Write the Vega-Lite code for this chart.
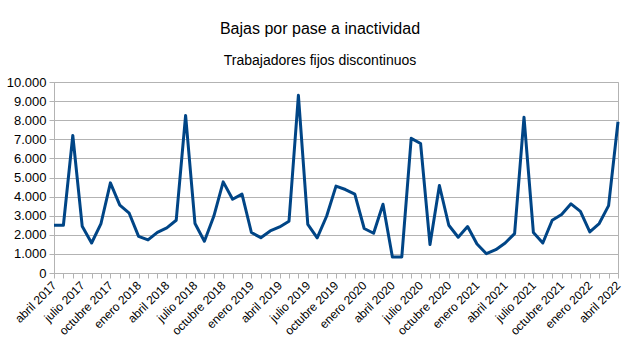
{
  "$schema": "https://vega.github.io/schema/vega-lite/v6.json",
  "width": 564,
  "height": 191,
  "autosize": {"type": "none"},
  "padding": {"left": 54, "top": 82, "right": 25, "bottom": 88},
  "background": "white",
  "config": {
    "font": "Liberation Sans",
    "view": {"stroke": "#b3b3b3", "strokeWidth": 1}
  },
  "title": {
    "text": "Bajas por pase a inactividad",
    "subtitle": "Trabajadores fijos discontinuos",
    "anchor": "middle",
    "frame": "group",
    "dx": -16,
    "font": "Liberation Sans",
    "fontSize": 16,
    "fontWeight": "normal",
    "color": "#000000",
    "subtitleFont": "Liberation Sans",
    "subtitleFontSize": 14,
    "subtitleColor": "#000000",
    "subtitlePadding": 17,
    "offset": 8
  },
  "data": {
    "values": [
      {"mes": "abril 2017", "bajas": 2500},
      {"mes": "mayo 2017", "bajas": 2500},
      {"mes": "junio 2017", "bajas": 7200},
      {"mes": "julio 2017", "bajas": 2450},
      {"mes": "agosto 2017", "bajas": 1570},
      {"mes": "septiembre 2017", "bajas": 2590},
      {"mes": "octubre 2017", "bajas": 4720},
      {"mes": "noviembre 2017", "bajas": 3550},
      {"mes": "diciembre 2017", "bajas": 3130},
      {"mes": "enero 2018", "bajas": 1920},
      {"mes": "febrero 2018", "bajas": 1730},
      {"mes": "marzo 2018", "bajas": 2130},
      {"mes": "abril 2018", "bajas": 2360},
      {"mes": "mayo 2018", "bajas": 2760},
      {"mes": "junio 2018", "bajas": 8250},
      {"mes": "julio 2018", "bajas": 2590},
      {"mes": "agosto 2018", "bajas": 1660},
      {"mes": "septiembre 2018", "bajas": 2970},
      {"mes": "octubre 2018", "bajas": 4770},
      {"mes": "noviembre 2018", "bajas": 3860},
      {"mes": "diciembre 2018", "bajas": 4130},
      {"mes": "enero 2019", "bajas": 2120},
      {"mes": "febrero 2019", "bajas": 1850},
      {"mes": "marzo 2019", "bajas": 2200},
      {"mes": "abril 2019", "bajas": 2410},
      {"mes": "mayo 2019", "bajas": 2710},
      {"mes": "junio 2019", "bajas": 9300},
      {"mes": "julio 2019", "bajas": 2550},
      {"mes": "agosto 2019", "bajas": 1840},
      {"mes": "septiembre 2019", "bajas": 2970},
      {"mes": "octubre 2019", "bajas": 4550},
      {"mes": "noviembre 2019", "bajas": 4370},
      {"mes": "diciembre 2019", "bajas": 4130},
      {"mes": "enero 2020", "bajas": 2330},
      {"mes": "febrero 2020", "bajas": 2080},
      {"mes": "marzo 2020", "bajas": 3600},
      {"mes": "abril 2020", "bajas": 840},
      {"mes": "mayo 2020", "bajas": 840},
      {"mes": "junio 2020", "bajas": 7050},
      {"mes": "julio 2020", "bajas": 6780},
      {"mes": "agosto 2020", "bajas": 1490},
      {"mes": "septiembre 2020", "bajas": 4580},
      {"mes": "octubre 2020", "bajas": 2500},
      {"mes": "noviembre 2020", "bajas": 1870},
      {"mes": "diciembre 2020", "bajas": 2430},
      {"mes": "enero 2021", "bajas": 1520},
      {"mes": "febrero 2021", "bajas": 1010},
      {"mes": "marzo 2021", "bajas": 1220},
      {"mes": "abril 2021", "bajas": 1570},
      {"mes": "mayo 2021", "bajas": 2060},
      {"mes": "junio 2021", "bajas": 8160},
      {"mes": "julio 2021", "bajas": 2120},
      {"mes": "agosto 2021", "bajas": 1570},
      {"mes": "septiembre 2021", "bajas": 2760},
      {"mes": "octubre 2021", "bajas": 3060},
      {"mes": "noviembre 2021", "bajas": 3620},
      {"mes": "diciembre 2021", "bajas": 3230},
      {"mes": "enero 2022", "bajas": 2150},
      {"mes": "febrero 2022", "bajas": 2590},
      {"mes": "marzo 2022", "bajas": 3530},
      {"mes": "abril 2022", "bajas": 7920}
    ]
  },
  "mark": {"type": "line", "color": "#004586", "strokeWidth": 3, "strokeJoin": "round"},
  "encoding": {
    "x": {
      "field": "mes",
      "type": "ordinal",
      "sort": null,
      "scale": {"type": "point", "padding": 0},
      "axis": {
        "title": null,
        "labelAngle": -45,
        "labelAlign": "right",
        "labelBaseline": "middle",
        "labelFont": "Liberation Sans",
        "labelFontSize": 12,
        "labelColor": "#000000",
        "labelPadding": 5,
        "labelOverlap": false,
        "labelExpr": "test(/^(abril|julio|octubre|enero)/, datum.value) ? datum.value : ''",
        "domainColor": "#b3b3b3",
        "tickColor": "#b3b3b3",
        "tickSize": 5,
        "grid": false
      }
    },
    "y": {
      "field": "bajas",
      "type": "quantitative",
      "scale": {"domain": [0, 10000], "nice": false},
      "axis": {
        "title": null,
        "values": [0, 1000, 2000, 3000, 4000, 5000, 6000, 7000, 8000, 9000, 10000],
        "labelExpr": "replace(format(datum.value, ',d'), ',', '.')",
        "labelFont": "Liberation Sans",
        "labelFontSize": 13,
        "labelColor": "#000000",
        "labelPadding": 3,
        "domainColor": "#b3b3b3",
        "tickColor": "#b3b3b3",
        "tickSize": 5,
        "gridColor": "#b3b3b3",
        "gridWidth": 1
      }
    }
  }
}
